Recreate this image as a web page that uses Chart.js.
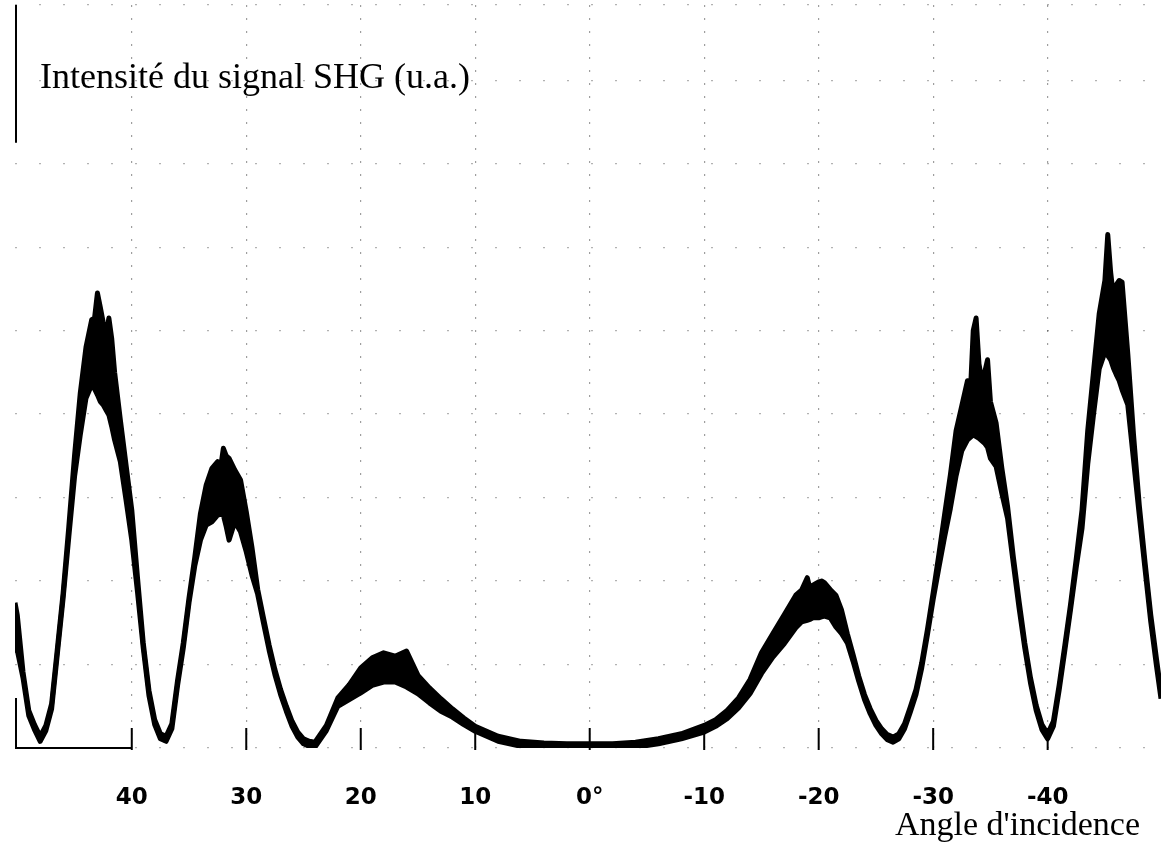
<!DOCTYPE html>
<html lang="fr">
<head>
<meta charset="utf-8">
<title>Intensité du signal SHG</title>
<script src="https://cdn.jsdelivr.net/npm/chart.js@4.4.1/dist/chart.umd.min.js"></script>
<style>
  html, body { margin: 0; padding: 0; background: #fff; }
  #wrap { width: 1161px; height: 851px; position: relative; }
</style>
</head>
<body>
<div id="wrap"><canvas id="c"></canvas></div>
<script>
// Angle d'incidence (degrés), sens décroissant de gauche à droite
const angles = [
  50.2, 50, 49.5, 49, 48.5, 48, 47.5, 47, 46.5, 46, 45.5, 45, 44.5, 44, 43.5, 43.25, 43, 42.75, 42.5, 42.25, 42, 41.75, 41.5, 41, 40.5, 40,
  39.5, 39, 38.5, 38, 37.5, 37, 36.5, 36, 35.5, 35, 34.5, 34, 33.5, 33, 32.5, 32.25, 32, 31.75, 31.5, 31, 30.5, 30,
  29.5, 29, 28.5, 28, 27.5, 27, 26.5, 26, 25.5, 25, 24.5, 24, 23, 22, 21, 20, 19, 18, 17, 16, 15, 14, 13, 12, 11, 10,
  8, 6, 4, 2, 0, -2, -4, -6, -8, -10, -11, -12, -13, -14, -15, -16, -17, -18, -18.5, -19, -19.25, -19.5, -20, -20.25, -20.5,
  -21, -21.5, -22, -22.5, -23, -23.5, -24, -24.5, -25, -25.5, -26, -26.5, -27, -27.5, -28, -28.5, -29, -29.5, -30,
  -30.5, -31, -31.5, -32, -32.5, -33, -33.25, -33.5, -33.75, -34, -34.25, -34.5, -34.75, -35, -35.5, -36, -36.5, -37,
  -37.5, -38, -38.5, -39, -39.5, -40, -40.5, -41, -41.5, -42, -42.5, -43, -43.5, -44, -44.5, -45, -45.25, -45.5,
  -45.75, -46, -46.25, -46.5, -47, -47.5, -48, -48.5, -49, -49.5, -49.9
];

// Enveloppe haute du signal SHG (u.a.)
const upperEnvelope = [
  17.4, 15.9, 9.1, 4.5, 2.8, 1.4, 2.7, 5.3, 11.9, 18.5, 26.5, 35.0, 42.5, 48.0, 51.3, 51.5, 54.5, 52.8, 51.0, 49.5, 51.5, 49.0, 45.0, 39.3, 33.9, 28.5,
  20.4, 12.6, 6.9, 3.4, 1.7, 1.4, 2.9, 8.1, 12.6, 18.0, 22.8, 28.1, 31.5, 33.5, 34.3, 33.5, 35.9, 35.0, 34.7, 33.3, 32.1, 28.3,
  24.0, 19.0, 15.6, 12.3, 9.4, 7.0, 5.0, 3.2, 1.9, 1.1, 0.8, 0.7, 2.7, 6.0, 7.6, 9.6, 10.8, 11.4, 11.0, 11.6, 8.7, 7.2, 5.9, 4.7, 3.6, 2.6,
  1.4, 0.8, 0.6, 0.5, 0.5, 0.5, 0.7, 1.1, 1.7, 2.7, 3.4, 4.5, 6.0, 8.2, 11.4, 13.7, 16.0, 18.3, 18.9, 20.4, 19.0, 19.5, 19.9, 20.0, 19.8,
  19.0, 18.3, 16.5, 13.7, 11.2, 8.6, 6.4, 4.7, 3.3, 2.3, 1.6, 1.3, 1.7, 2.9, 4.9, 7.0, 10.2, 14.2, 18.6,
  23.2, 28.0, 32.7, 38.0, 41.0, 44.0, 42.5, 50.0, 51.5, 46.0, 44.0, 45.0, 46.5, 41.5, 38.9, 33.5, 28.9, 22.9,
  17.6, 12.6, 8.4, 5.1, 2.8, 1.7, 3.2, 7.5, 12.3, 17.2, 22.7, 28.5, 38.0, 45.0, 52.0, 56.0, 61.5, 57.0,
  54.0, 55.5, 56.0, 55.8, 47.2, 37.5, 29.1, 22.3, 16.0, 10.7, 6.7
];

// Enveloppe basse du signal SHG (u.a.)
const lowerEnvelope = [
  11.7, 11.7, 8.4, 3.9, 2.2, 0.8, 2.1, 4.7, 11.3, 17.9, 25.3, 32.5, 37.5, 41.9, 43.5, 43.0, 42.3, 41.5, 41.1, 40.5, 39.9, 38.5, 36.9, 34.3, 29.7, 24.9,
  18.7, 12.0, 6.3, 2.8, 1.1, 0.8, 2.3, 7.5, 12.0, 17.4, 21.8, 24.9, 26.7, 27.1, 27.9, 28.0, 27.9, 26.5, 24.9, 27.1, 25.9, 23.5,
  20.7, 18.4, 15.0, 11.7, 8.8, 6.4, 4.4, 2.6, 1.3, 0.5, 0.2, 0.1, 2.1, 5.0, 5.8, 6.6, 7.5, 7.9, 7.9, 7.3, 6.5, 5.4, 4.4, 3.7, 2.8, 2.0,
  0.8, 0.2, 0.0, 0.0, 0.0, 0.0, 0.1, 0.5, 1.1, 1.9, 2.6, 3.5, 4.8, 6.5, 8.9, 10.9, 12.5, 14.4, 15.1, 15.3, 15.4, 15.6, 15.6, 15.7, 15.8,
  15.6, 14.5, 13.7, 12.6, 10.4, 8.0, 5.8, 4.1, 2.7, 1.7, 1.0, 0.7, 1.1, 2.3, 4.3, 6.4, 9.6, 13.6, 17.8,
  21.6, 25.3, 28.7, 32.6, 35.6, 36.9, 37.2, 37.5, 37.3, 37.1, 36.8, 36.5, 36.0, 34.7, 33.7, 30.5, 27.5, 22.1,
  16.8, 12.0, 7.8, 4.5, 2.2, 1.1, 2.6, 6.9, 11.7, 16.6, 21.7, 26.3, 34.0, 39.9, 45.4, 47.4, 47.0, 46.5,
  45.5, 44.7, 44.0, 42.9, 41.1, 34.5, 27.9, 21.5, 15.2, 9.9, 5.9
];

// Graduations de l'axe des angles
const angleTicks = [40, 30, 20, 10, 0, -10, -20, -30, -40];

const yTitle = 'Intensité du signal SHG (u.a.)';
const xTitle = "Angle d'incidence";

const toPoints = values => angles.map((a, i) => ({ x: a, y: values[i] }));

// Traits d'axes partiels, repères de graduation et légendes des axes
const paperMarks = {
  id: 'paperMarks',
  afterDatasetsDraw(chart) {
    const { ctx, chartArea: a, scales: { x, y } } = chart;
    ctx.save();
    ctx.strokeStyle = '#000';
    ctx.lineWidth = 2;
    ctx.beginPath();
    // axe vertical (morceaux visibles)
    ctx.moveTo(a.left + 1, y.getPixelForValue(89));
    ctx.lineTo(a.left + 1, y.getPixelForValue(72.5));
    ctx.moveTo(a.left + 1, y.getPixelForValue(6));
    ctx.lineTo(a.left + 1, a.bottom);
    // axe horizontal (morceau visible)
    ctx.moveTo(a.left, a.bottom);
    ctx.lineTo(x.getPixelForValue(40), a.bottom);
    // repères des graduations
    x.ticks.forEach(t => {
      const px = x.getPixelForValue(t.value);
      ctx.moveTo(px, a.bottom + 2);
      ctx.lineTo(px, a.bottom - 20);
    });
    ctx.stroke();
    ctx.restore();
  },
  afterDraw(chart) {
    const { ctx, chartArea: a } = chart;
    ctx.save();
    ctx.fillStyle = '#000';
    ctx.textBaseline = 'alphabetic';
    ctx.font = '36px "Liberation Serif", "Times New Roman", serif';
    ctx.textAlign = 'left';
    ctx.fillText(yTitle, a.left + 25, a.top + 83);
    ctx.font = '34px "Liberation Serif", "Times New Roman", serif';
    ctx.textAlign = 'right';
    ctx.fillText(xTitle, a.right - 21, chart.height - 16);
    ctx.restore();
  }
};

new Chart(document.getElementById('c'), {
  type: 'line',
  data: {
    datasets: [
      {
        label: 'enveloppe haute',
        data: toPoints(upperEnvelope),
        borderColor: '#000',
        backgroundColor: '#000',
        borderWidth: 5,
        borderJoinStyle: 'round',
        pointRadius: 0,
        tension: 0,
        fill: '+1'
      },
      {
        label: 'enveloppe basse',
        data: toPoints(lowerEnvelope),
        borderColor: '#000',
        borderWidth: 5,
        borderJoinStyle: 'round',
        pointRadius: 0,
        tension: 0,
        fill: false
      }
    ]
  },
  options: {
    responsive: true,
    maintainAspectRatio: false,
    animation: false,
    layout: { padding: { top: 5, left: 0, right: 0, bottom: 0 } },
    plugins: {
      legend: { display: false },
      tooltip: { enabled: false },
      title: { display: false }
    },
    scales: {
      x: {
        type: 'linear',
        reverse: true,
        min: -49.9,
        max: 50.2,
        afterBuildTicks(scale) {
          scale.ticks = angleTicks.map(v => ({ value: v }));
        },
        afterFit(scale) { scale.height = 103; },
        grid: { color: 'rgba(0,0,0,0.38)', lineWidth: 1.2, drawTicks: false },
        border: { display: false, dash: [2, 11] },
        ticks: {
          padding: 36,
          color: '#000',
          font: { family: '"DejaVu Sans", sans-serif', size: 23, weight: 'bold' },
          callback: v => (v === 0 ? '0°' : String(v))
        }
      },
      y: {
        min: 0,
        max: 89,
        afterFit(scale) { scale.width = 15; },
        ticks: { display: false, stepSize: 10 },
        grid: { color: 'rgba(0,0,0,0.3)', lineWidth: 1.2, drawTicks: false },
        border: { display: false, dash: [2, 22] }
      }
    }
  },
  plugins: [paperMarks]
});
</script>
</body>
</html>
